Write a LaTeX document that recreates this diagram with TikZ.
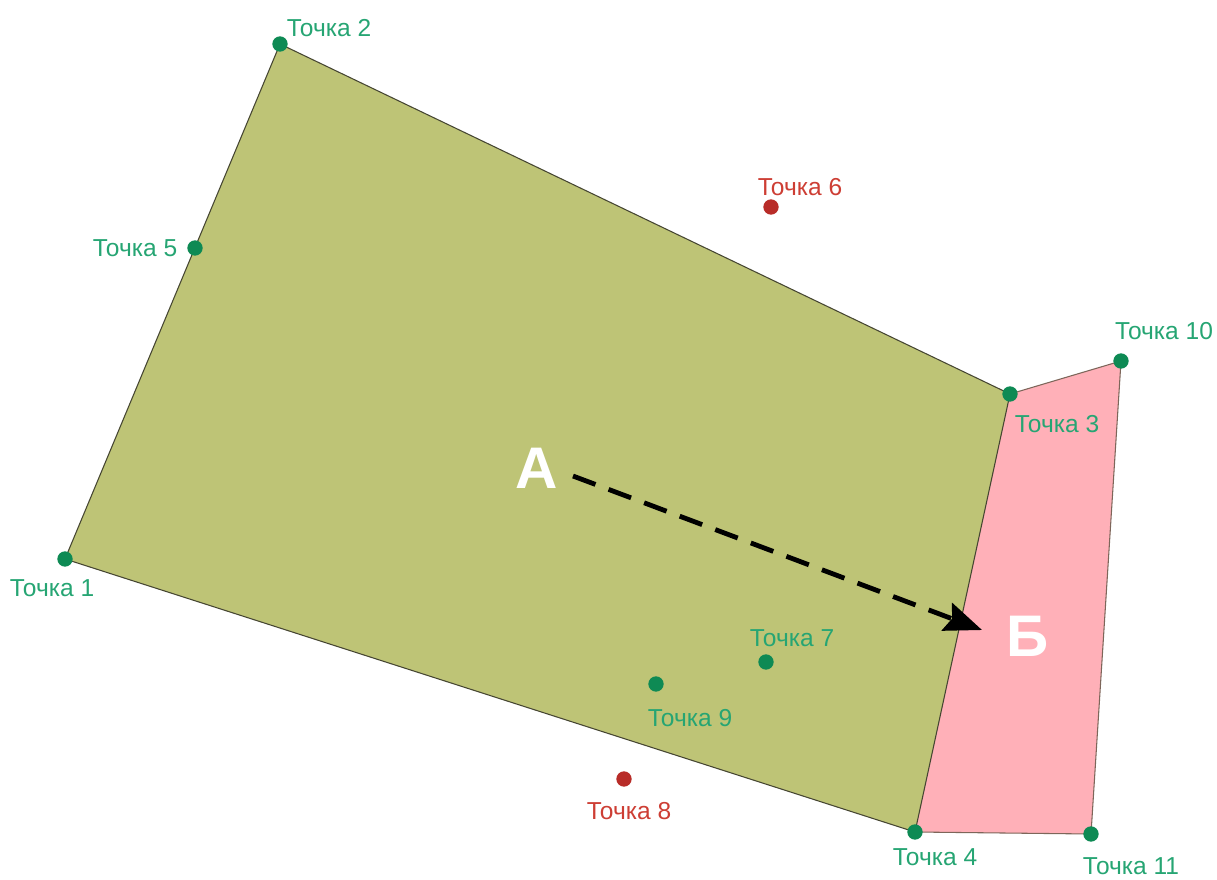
\documentclass[tikz,border=0pt]{standalone}
\usepackage{fontspec}
\setmainfont{Liberation Sans}
\usetikzlibrary{arrows.meta}
\definecolor{ZoneOlive}{RGB}{190, 196, 118}
\definecolor{ZonePink}{RGB}{255, 176, 184}
\definecolor{DotGreen}{RGB}{14, 138, 84}
\definecolor{DotRed}{RGB}{184, 44, 40}
\definecolor{TextGreen}{RGB}{38, 165, 115}
\definecolor{TextRed}{RGB}{205, 62, 52}
\definecolor{EdgeDark}{RGB}{70, 70, 50}
\tikzset{
  okdot/.style={circle, fill=DotGreen, inner sep=0pt, minimum size=11.5pt},
  baddot/.style={circle, fill=DotRed, inner sep=0pt, minimum size=11.5pt},
  oklabel/.style={text=TextGreen, inner sep=0pt, font=\fontsize{18.4}{20}\selectfont},
  badlabel/.style={text=TextRed, inner sep=0pt, font=\fontsize{18.4}{20}\selectfont},
  zoneletter/.style={text=white, inner sep=0pt, font=\fontsize{44}{48}\selectfont\bfseries},
}

\begin{document}
\begin{tikzpicture}[x=0.75pt,y=-0.75pt]
  \path[use as bounding box] (0,0) rectangle (1217,880);

  % Points
  \coordinate (p1) at (65,559);
  \coordinate (p2) at (280,44);
  \coordinate (p3) at (1010,394);
  \coordinate (p4) at (915,832);
  \coordinate (p10) at (1121,361);
  \coordinate (p11) at (1091,834);

  % Zones
  \fill[ZonePink] (p3) -- (p10) -- (p11) -- (p4) -- cycle;
  \draw[EdgeDark!70!ZonePink, line width=0.8pt] (p3) -- (p10) -- (p11) -- (p4);
  \filldraw[fill=ZoneOlive, draw=EdgeDark, line width=0.8pt] (p1) -- (p2) -- (p3) -- (p4) -- cycle;

  % Dots
  \node[okdot] (dot1) at (p1) {};
  \node[okdot] (dot2) at (p2) {};
  \node[okdot] (dot3) at (p3) {};
  \node[okdot] (dot4) at (p4) {};
  \node[okdot] (dot5) at (195,248) {};
  \node[baddot] (dot6) at (771,207) {};
  \node[okdot] (dot7) at (766,662) {};
  \node[baddot] (dot8) at (624,779) {};
  \node[okdot] (dot9) at (656,684) {};
  \node[okdot] (dot10) at (p10) {};
  \node[okdot] (dot11) at (p11) {};

  % Labels
  \node[oklabel] (lab1) at (52,588) {Точка 1};
  \node[oklabel] (lab2) at (329,28) {Точка 2};
  \node[oklabel] (lab3) at (1057,424) {Точка 3};
  \node[oklabel] (lab4) at (935,857) {Точка 4};
  \node[oklabel] (lab5) at (135,248) {Точка 5};
  \node[badlabel] (lab6) at (800,187) {Точка 6};
  \node[oklabel] (lab7) at (792,638) {Точка 7};
  \node[badlabel] (lab8) at (629,811) {Точка 8};
  \node[oklabel] (lab9) at (690,718) {Точка 9};
  \node[oklabel] (lab10) at (1164,331) {Точка 10};
  \node[oklabel] (lab11) at (1131,866) {Точка 11};

  % Route
  \node[zoneletter] (from) at (537,468) {А};
  \node[zoneletter] (to) at (1028,636) {Б};
  \coordinate (routeA) at (573,476);
  \coordinate (routeB) at (982,630);
  \draw[black, line width=3.6pt, dash pattern=on 18pt off 10.5pt, -{Stealth[length=28pt, width=22pt, inset=4pt]}]
    (routeA) -- (routeB);
\end{tikzpicture}
\end{document}
